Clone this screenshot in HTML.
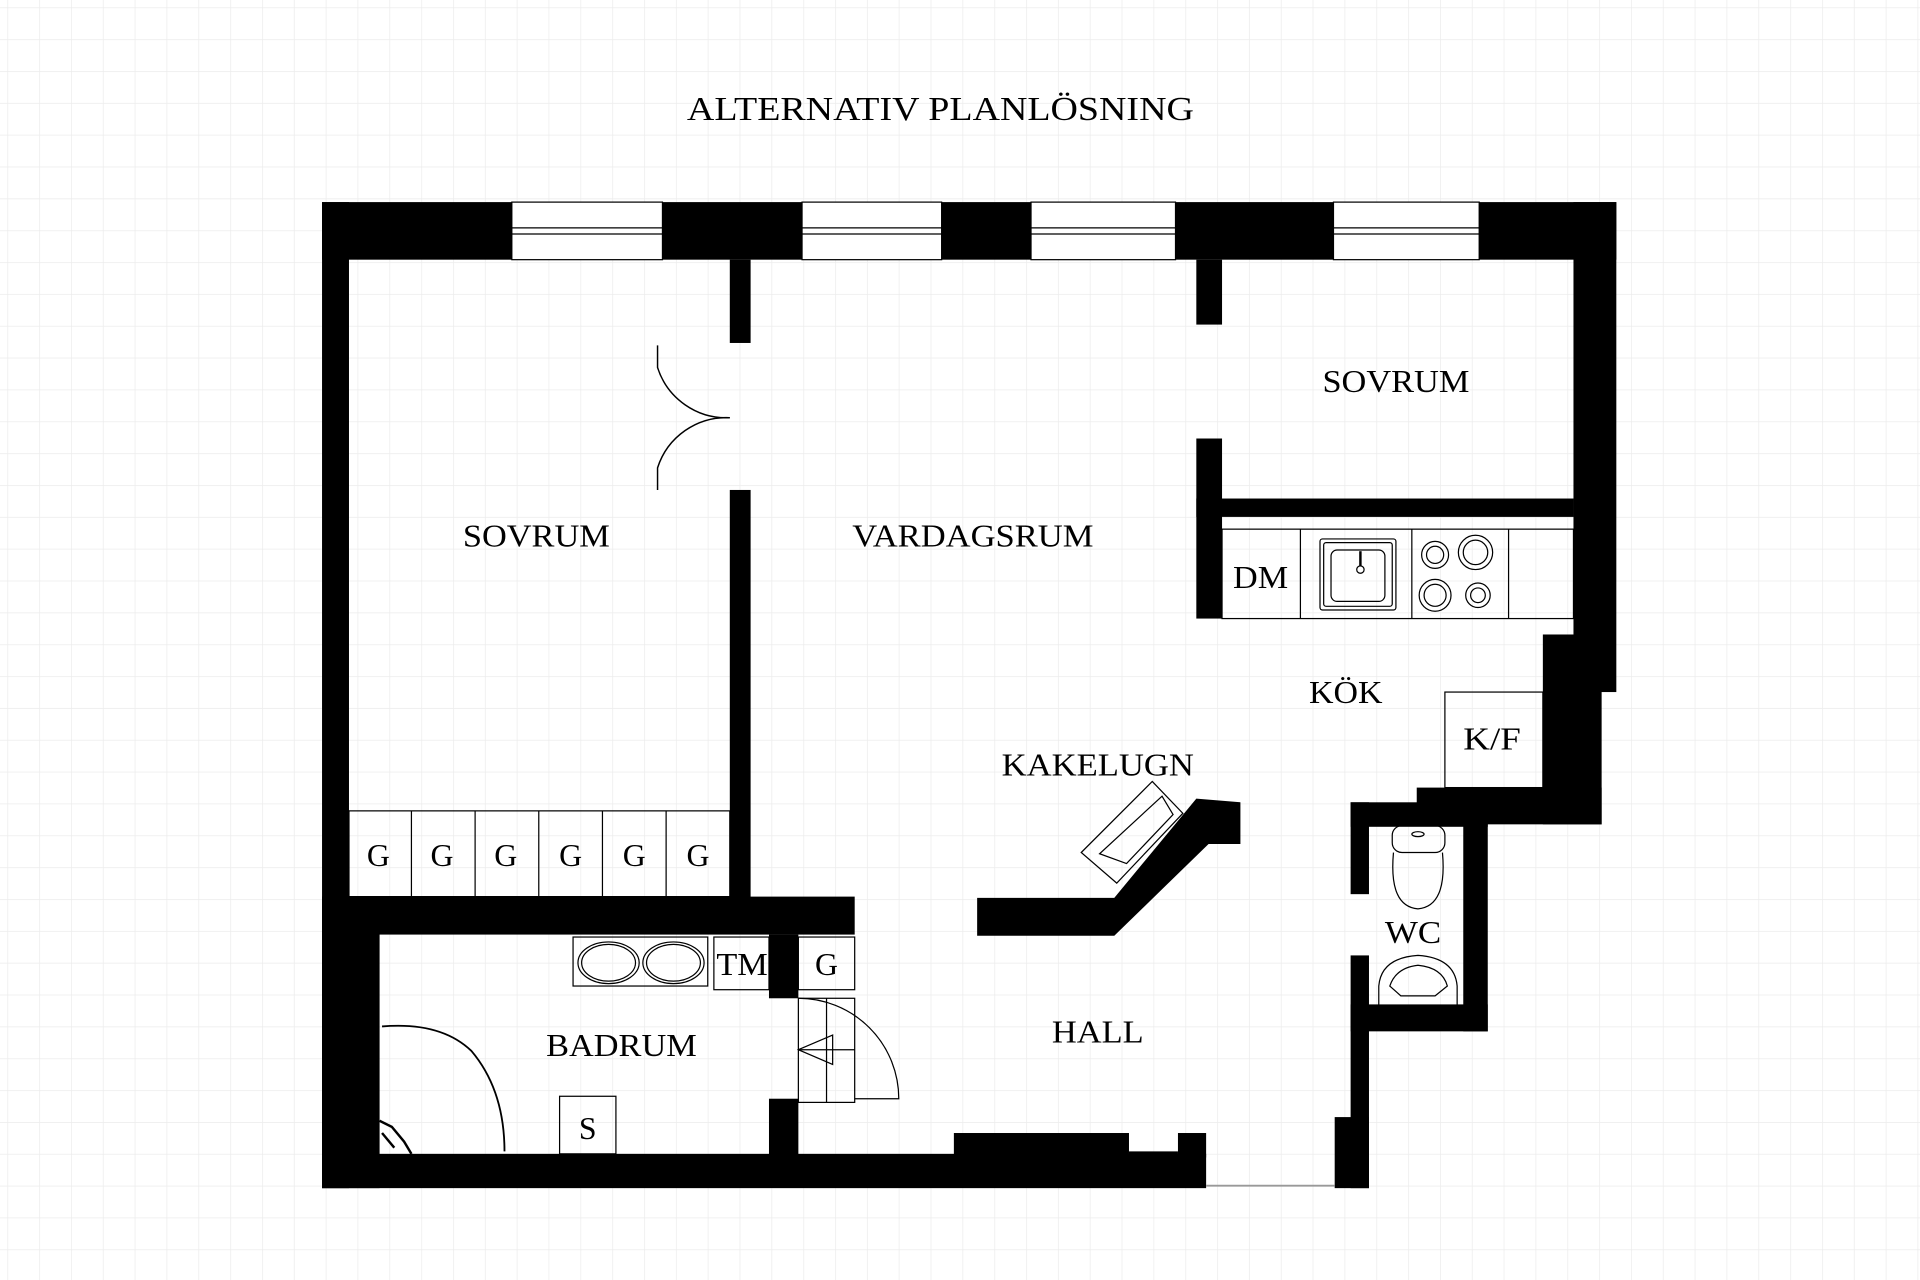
<!DOCTYPE html>
<html><head><meta charset="utf-8"><style>
html,body{margin:0;padding:0;background:#fff;}
svg{display:block;}
text{font-family:"Liberation Serif",serif;fill:#000;}
</style></head><body>
<svg width="1920" height="1280" viewBox="0 0 1568 1045" preserveAspectRatio="none" xmlns="http://www.w3.org/2000/svg">
<defs>
<pattern id="g" width="26" height="26" patternUnits="userSpaceOnUse" x="6" y="6">
<path d="M26 0H0V26" fill="none" stroke="#ececec" stroke-width="1.2"/>
</pattern>
</defs>
<rect width="1568" height="1045" fill="#fff"/>
<rect width="1568" height="1045" fill="url(#g)"/>

<text x="561" y="98" font-size="28" textLength="414" lengthAdjust="spacingAndGlyphs">ALTERNATIV PLANLÖSNING</text>

<g fill="#000">
<rect x="263" y="165" width="1057" height="47"/>
<rect x="263" y="165" width="22" height="805"/>
<rect x="263" y="732" width="47" height="238"/>
<rect x="1285" y="165" width="35" height="400"/>
<rect x="1260" y="518" width="48" height="155"/>
<rect x="1157" y="643" width="151" height="30"/>
<rect x="1103" y="655" width="112" height="20"/>
<rect x="1195" y="655" width="20" height="187"/>
<rect x="1103" y="820" width="112" height="22"/>
<rect x="1103" y="655" width="15" height="75"/>
<rect x="1103" y="780" width="15" height="190"/>
<rect x="1090" y="912" width="28" height="58"/>
<rect x="596" y="212" width="17" height="68"/>
<rect x="596" y="400" width="17" height="335"/>
<rect x="977" y="212" width="21" height="53"/>
<rect x="977" y="358" width="21" height="147"/>
<rect x="977" y="407" width="308" height="15"/>
<rect x="263" y="732" width="435" height="31"/>
<rect x="628" y="763" width="24" height="52"/>
<rect x="628" y="897" width="24" height="50"/>
<rect x="263" y="942" width="722" height="28"/>
<rect x="779" y="925" width="143" height="20"/>
<rect x="922" y="940" width="40" height="5"/>
<rect x="962" y="925" width="23" height="20"/>
<polygon points="798,733 910,733 977,652 1013,655 1013,689 987,689 910,764 798,764"/>
</g>
<line x1="985" y1="968" x2="1090" y2="968" stroke="#999" stroke-width="1.5"/>

<g fill="#fff" stroke="#000" stroke-width="1">
<rect x="418" y="165" width="123" height="47"/>
<rect x="655" y="165" width="114" height="47"/>
<rect x="842" y="165" width="118" height="47"/>
<rect x="1089" y="165" width="119" height="47"/>
</g>
<g stroke="#000" stroke-width="1">
<line x1="418" y1="186" x2="541" y2="186"/><line x1="418" y1="191" x2="541" y2="191"/>
<line x1="655" y1="186" x2="769" y2="186"/><line x1="655" y1="191" x2="769" y2="191"/>
<line x1="842" y1="186" x2="960" y2="186"/><line x1="842" y1="191" x2="960" y2="191"/>
<line x1="1089" y1="186" x2="1208" y2="186"/><line x1="1089" y1="191" x2="1208" y2="191"/>
</g>

<g fill="none" stroke="#000" stroke-width="1.2">
<path d="M537,282 L537,300 A59,59 0 0 0 596,341"/>
<path d="M596,341 A59,59 0 0 0 537,382 L537,400"/>
</g>

<g fill="none" stroke="#000" stroke-width="1">
<rect x="285" y="662" width="311" height="70"/>
<line x1="336" y1="662" x2="336" y2="732"/><line x1="388" y1="662" x2="388" y2="732"/>
<line x1="440" y1="662" x2="440" y2="732"/><line x1="492" y1="662" x2="492" y2="732"/>
<line x1="544" y1="662" x2="544" y2="732"/>
</g>
<g font-size="26" text-anchor="middle">
<text x="309" y="707">G</text><text x="361" y="707">G</text><text x="413" y="707">G</text>
<text x="466" y="707">G</text><text x="518" y="707">G</text><text x="570" y="707">G</text>
</g>

<g fill="none" stroke="#000" stroke-width="1">
<rect x="998" y="432" width="287" height="73"/>
<line x1="1062" y1="432" x2="1062" y2="505"/>
<line x1="1153" y1="432" x2="1153" y2="505"/>
<line x1="1232" y1="432" x2="1232" y2="505"/>
<rect x="1078" y="440" width="62" height="58" rx="2"/>
<rect x="1081" y="443" width="56" height="52" rx="2"/>
<rect x="1087" y="449" width="44" height="42" rx="5"/>
<circle cx="1111" cy="465" r="3"/>
<line x1="1111" y1="450" x2="1111" y2="462" stroke-width="2"/>
<circle cx="1172" cy="453" r="11"/><circle cx="1172" cy="453" r="7"/>
<circle cx="1205" cy="451" r="14"/><circle cx="1205" cy="451" r="10"/>
<circle cx="1172" cy="486" r="13"/><circle cx="1172" cy="486" r="9"/>
<circle cx="1207" cy="486" r="10"/><circle cx="1207" cy="486" r="6"/>
<rect x="1180" y="565" width="80" height="78"/>
</g>

<g fill="none" stroke="#000" stroke-width="1">
<rect x="1137" y="674" width="43" height="22" rx="8"/>
<ellipse cx="1158" cy="681" rx="5" ry="2"/>
<path d="M1138,696 Q1134,740 1158,742 Q1182,740 1178,696"/>
<path d="M1126,822 L1126,805 Q1128,782 1158,780 Q1188,782 1190,805 L1190,822"/>
<path d="M1135,805 Q1140,790 1158,788 Q1178,790 1182,805 L1172,813 L1144,813 Z"/>
</g>

<g fill="none" stroke="#000" stroke-width="1">
<polygon points="941,638 966,664 912,721 883,696"/>
<polygon points="949,650 958,665 920,705 898,697"/>
</g>

<g fill="none" stroke="#000" stroke-width="1">
<rect x="468" y="765" width="110" height="40"/>
<ellipse cx="497" cy="786" rx="25" ry="17"/><ellipse cx="497" cy="786" rx="22" ry="15"/>
<ellipse cx="550" cy="786" rx="25" ry="17"/><ellipse cx="550" cy="786" rx="22" ry="15"/>
<rect x="583" y="765" width="45" height="43"/>
<rect x="652" y="765" width="46" height="43"/>
<rect x="457" y="895" width="46" height="47"/>
<path d="M312,838 Q360,834 385,858 Q412,890 412,940" stroke-width="1.5"/>
<rect x="652" y="815" width="46" height="85"/>
<line x1="675" y1="815" x2="675" y2="900"/>
<path d="M652,815 A82,82 0 0 1 734,897 L698,897"/>
<polygon points="652,857 680,845 680,869"/>
<line x1="652" y1="857" x2="698" y2="857"/>
<path d="M310,915 L320,920 L330,932 L336,942 M312,925 L322,937" stroke-width="2"/>
</g>

<g font-size="26" lengthAdjust="spacingAndGlyphs">
<text x="378" y="446" textLength="120" lengthAdjust="spacingAndGlyphs">SOVRUM</text>
<text x="696" y="446" textLength="197" lengthAdjust="spacingAndGlyphs">VARDAGSRUM</text>
<text x="1080" y="320" textLength="120" lengthAdjust="spacingAndGlyphs">SOVRUM</text>
<text x="1007" y="480" textLength="45" lengthAdjust="spacingAndGlyphs">DM</text>
<text x="1069" y="574" textLength="60" lengthAdjust="spacingAndGlyphs">KÖK</text>
<text x="1195" y="612" textLength="47" lengthAdjust="spacingAndGlyphs">K/F</text>
<text x="818" y="633" textLength="157" lengthAdjust="spacingAndGlyphs">KAKELUGN</text>
<text x="1131" y="770" textLength="46" lengthAdjust="spacingAndGlyphs">WC</text>
<text x="585" y="796" textLength="42" lengthAdjust="spacingAndGlyphs">TM</text>
<text x="675" y="796" text-anchor="middle">G</text>
<text x="446" y="862" textLength="123" lengthAdjust="spacingAndGlyphs">BADRUM</text>
<text x="859" y="851" textLength="75" lengthAdjust="spacingAndGlyphs">HALL</text>
<text x="480" y="930" text-anchor="middle">S</text>
</g>
</svg>
</body></html>
